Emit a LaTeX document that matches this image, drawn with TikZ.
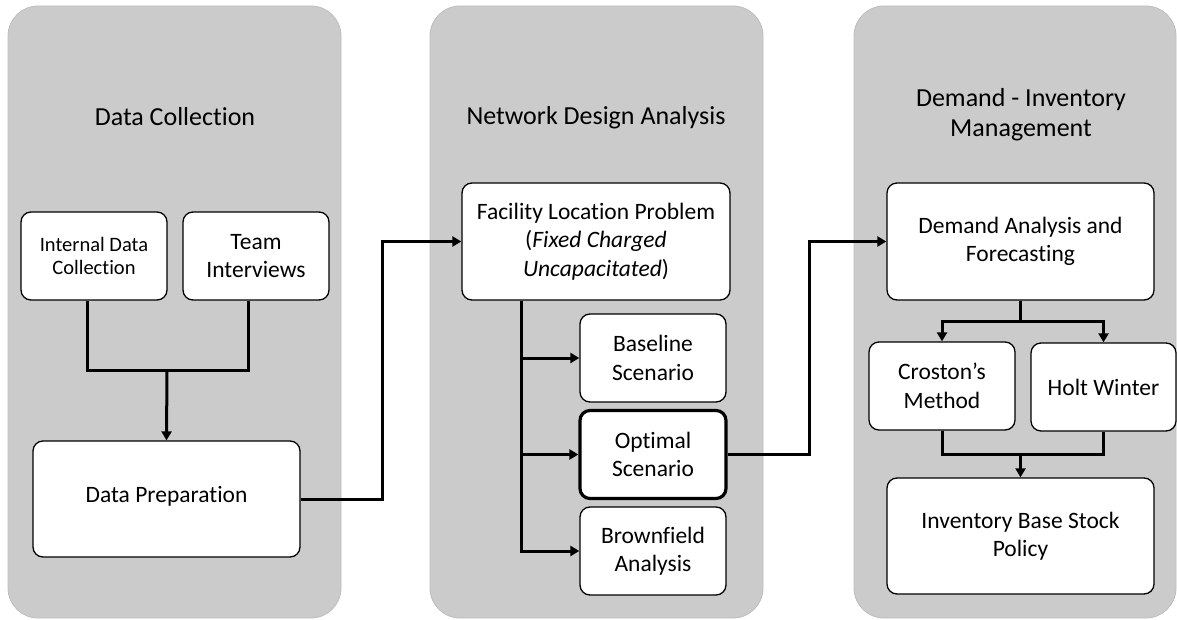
\documentclass[tikz,border=0pt]{standalone}
\usepackage{fontspec}
\setmainfont{Carlito}[Ligatures={NoCommon}]
\usetikzlibrary{arrows.meta}
\definecolor{panelgray}{HTML}{CBCBCB}
\definecolor{paneledge}{HTML}{BDBDBD}
\tikzset{
  panel/.style={fill=panelgray, draw=paneledge, line width=0.8pt, rounded corners=30pt},
  ptitle/.style={align=center, font=\fontsize{26}{30}\selectfont, text=black},
  box/.style={draw=black, fill=white, line width=1.3pt, rounded corners=10pt, align=center,
    font=\fontsize{23.5}{28.5}\selectfont, inner sep=2pt},
  smallbox/.style={box, font=\fontsize{20.5}{23}\selectfont},
  thickbox/.style={box, line width=3.2pt},
  conn/.style={draw=black, line width=3pt},
  arr/.style={conn, -{Triangle[length=9pt,width=10pt]}},
}
\begin{document}
\begin{tikzpicture}[x=1pt,y=-1pt]
\useasboundingbox (0,0) rectangle (1177,620);
% panels
\path[panel] (8,6) rectangle (341,618);
\path[panel] (430,6) rectangle (763,618);
\path[panel] (854,6) rectangle (1176,618);
% titles
\node[ptitle] (t1) at (175,117) {Data Collection};
\node[ptitle] (t2) at (596,118) {Network Design Analysis};
\node[ptitle] (t3) at (1021,115) {Demand - Inventory\\Management};
% column 1
\node[smallbox, minimum width=146, minimum height=88] (idc) at (94,256) {Internal Data\\Collection};
\node[box, minimum width=146, minimum height=88] (team) at (256,256) {Team\\Interviews};
\node[box, minimum width=267, minimum height=116] (prep) at (166.5,499) {\raisebox{0pt}[16pt][10pt]{Data Preparation}};
% column 2
\node[box, minimum width=268, minimum height=117] (flp) at (596,241.5) {Facility Location Problem\\(\textit{Fixed Charged}\\\textit{Uncapacitated})};
\node[box, minimum width=146, minimum height=88] (base) at (653,358) {Baseline\\Scenario};
\node[thickbox, minimum width=146, minimum height=88] (opt) at (653,454.5) {Optimal\\Scenario};
\node[box, minimum width=146, minimum height=88] (brown) at (653,551) {Brownfield\\Analysis};
% column 3
\node[box, minimum width=267, minimum height=117] (dem) at (1020.5,241.5) {Demand Analysis and\\Forecasting};
\node[box, minimum width=146, minimum height=88] (cros) at (942,386) {Croston’s\\Method};
\node[box, minimum width=145, minimum height=88] (holt) at (1103.5,387) {Holt Winter};
\node[box, minimum width=267, minimum height=116] (inv) at (1020.5,536) {Inventory Base Stock\\Policy};
% connectors column 1
\coordinate (m1) at (167,370);
\draw[conn] ([xshift=-7pt]idc.south) |- (m1) -| ([xshift=-8pt]team.south);
\draw[arr] (m1) -- (prep.north);
\coordinate (c1) at (382,370);
\draw[arr] (prep.east) -| (c1) |- (flp.west);
% column 2
\coordinate (v0) at ([xshift=60pt]flp.south west);
\draw[arr] (v0) |- (brown.west);
\draw[arr] (v0) |- (base.west);
\draw[arr] (v0) |- (opt.west);
\coordinate (c2) at (809,350);
\draw[arr] (opt.east) -| (c2) |- (dem.west);
% column 3
\coordinate (s1) at (1020.5,321);
\draw[conn] (dem.south) -- (s1);
\draw[arr] (s1) -| (cros.north);
\draw[arr] (s1) -| (holt.north);
\coordinate (m2) at (1020.5,454);
\draw[conn] (cros.south) |- (m2) -| (holt.south);
\draw[arr] (m2) -- (inv.north);
\end{tikzpicture}
\end{document}
